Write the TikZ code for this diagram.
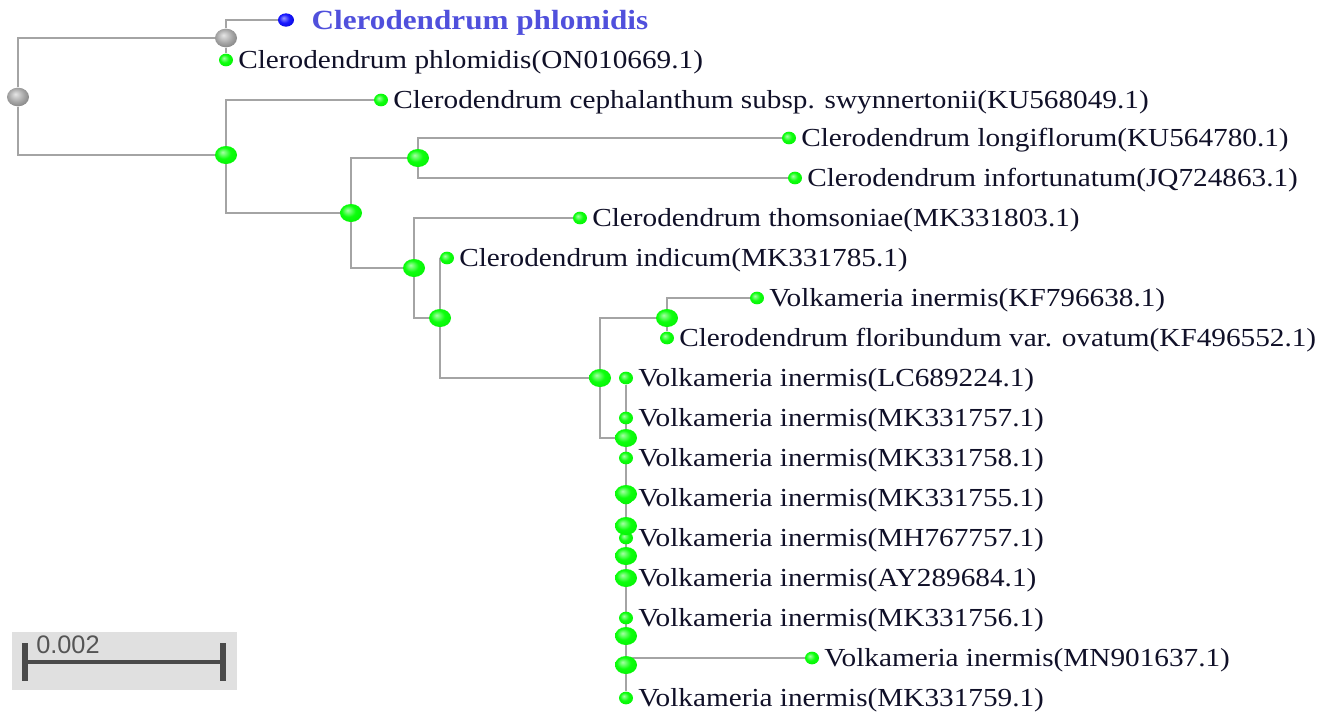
\documentclass[tikz,border=0pt]{standalone}
\usepackage{fontspec}
\usetikzlibrary{shapes.geometric,backgrounds}
\newfontfamily\labfont[FakeStretch=1.125]{Liberation Serif}
\newfontfamily\scalefont{Liberation Sans}

\definecolor{brcol}{HTML}{A4A4A4}
\definecolor{labcol}{HTML}{101028}
\definecolor{titlecol}{HTML}{5050DC}
\definecolor{barcol}{HTML}{4A4A4A}
\definecolor{barbg}{HTML}{E0E0E0}
\definecolor{barfont}{HTML}{555555}

\pgfdeclareradialshading{greenball}{\pgfpoint{-8bp}{8bp}}{%
  color(0bp)=(green!35!white); color(16bp)=(green!95!white);
  color(40bp)=(green!92!black); color(50bp)=(green!85!black)}
\pgfdeclareradialshading{greyball}{\pgfpoint{-6bp}{8bp}}{%
  color(0bp)=(gray!20!white); color(18bp)=(gray!70!white);
  color(40bp)=(gray!80!black); color(50bp)=(gray!60!black)}
\pgfdeclareradialshading{blueball}{\pgfpoint{-8bp}{8bp}}{%
  color(0bp)=(blue!40!white); color(16bp)=(blue!90!white);
  color(38bp)=(blue!80!black); color(50bp)=(blue!70!black)}

\tikzset{
  leafnode/.style={ellipse, minimum width=10.5pt, minimum height=9.5pt,
    inner sep=0pt, shade, shading=greenball},
  innode/.style={ellipse, minimum width=16.5pt, minimum height=13.5pt,
    inner sep=0pt, shade, shading=greenball},
  greynode/.style={ellipse, minimum width=16.5pt, minimum height=14pt,
    inner sep=0pt, shade, shading=greyball},
  bluenode/.style={ellipse, minimum width=12pt, minimum height=10pt,
    inner sep=0pt, shade, shading=blueball},
  branch/.style={draw=brcol, line width=1.5pt},
  lab/.style={font=\labfont\fontsize{19.5pt}{21pt}\selectfont,
    text=labcol, inner sep=0pt, anchor=base west},
}

% leaf with its label: name, x, y, text
\newcommand\leaftaxon[4]{%
  \node[leafnode] (#1) at (#2,#3) {};
  \node[lab] (#1-t) at ([xshift=9pt,yshift=-6.4pt]#1.center) {#4};}

\begin{document}
\begin{tikzpicture}[x=0.75pt,y=-0.75pt]
\useasboundingbox (0,0) rectangle (1328,711);

% scale bar
\node[draw=none, fill=barbg, minimum width=168.75pt, minimum height=43.5pt,
  inner sep=0pt, anchor=north west] (sbox) at (12,632) {};
\coordinate (sbl) at (25,662);
\coordinate (sbr) at (223,662);
\coordinate (sbla) at (25,643);
\coordinate (sblb) at (25,681);
\coordinate (sbra) at (223,643);
\coordinate (sbrb) at (223,681);
\draw[barcol, line width=3pt] (sbl) -- (sbr);
\draw[barcol, line width=4.5pt] (sbla) -- (sblb);
\draw[barcol, line width=4.5pt] (sbra) -- (sbrb);
\node[font=\scalefont\fontsize{19pt}{20pt}\selectfont, text=barfont,
  inner sep=0pt, anchor=base west] (stext) at (36,653) {0.002};

% taxa
\leaftaxon{L0}{226}{60}{Clerodendrum phlomidis(ON010669.1)}
\leaftaxon{L1}{381}{100}{Clerodendrum cephalanthum subsp. swynnertonii(KU568049.1)}
\leaftaxon{L2}{789}{138}{Clerodendrum longiflorum(KU564780.1)}
\leaftaxon{L3}{795}{178}{Clerodendrum infortunatum(JQ724863.1)}
\leaftaxon{L4}{580}{218}{Clerodendrum thomsoniae(MK331803.1)}
\leaftaxon{L5}{447}{258}{Clerodendrum indicum(MK331785.1)}
\leaftaxon{L6}{757}{298}{Volkameria inermis(KF796638.1)}
\leaftaxon{L7}{667}{338}{Clerodendrum floribundum var. ovatum(KF496552.1)}
\leaftaxon{V1}{626}{378}{Volkameria inermis(LC689224.1)}
\leaftaxon{V2}{626}{418}{Volkameria inermis(MK331757.1)}
\leaftaxon{V3}{626}{458}{Volkameria inermis(MK331758.1)}
\leaftaxon{V4}{626}{498}{Volkameria inermis(MK331755.1)}
\leaftaxon{V5}{626}{538}{Volkameria inermis(MH767757.1)}
\leaftaxon{V6}{626}{578}{Volkameria inermis(AY289684.1)}
\leaftaxon{V7}{626}{618}{Volkameria inermis(MK331756.1)}
\leaftaxon{V8}{812}{658}{Volkameria inermis(MN901637.1)}
\leaftaxon{V9}{626}{698}{Volkameria inermis(MK331759.1)}

% query sequence
\node[bluenode] (q) at (286,20) {};
\node[font=\labfont\bfseries\fontsize{20.8pt}{22pt}\selectfont, text=titlecol,
  inner sep=0pt, anchor=base west] (q-t) at ([xshift=19pt,yshift=-6.8pt]q.center)
  {Clerodendrum phlomidis};

% internal nodes
\node[greynode] (r) at (18,97) {};
\node[greynode] (g1) at (226,38) {};
\node[innode] (n1) at (226,155) {};
\node[innode] (n2) at (351,213) {};
\node[innode] (n3) at (418,158) {};
\node[innode] (n4) at (414,268) {};
\node[innode] (n5) at (440,318) {};
\node[innode] (n6) at (600,378) {};
\node[innode] (n7) at (667,318) {};
\node[innode] (c1) at (626,438) {};
\node[innode] (c2) at (626,494) {};
\node[innode] (c3) at (626,526) {};
\node[innode] (c4) at (626,556) {};
\node[innode] (c5) at (626,578) {};
\node[innode] (c6) at (626,636) {};
\node[innode] (c7) at (626,665) {};

% branches
\begin{scope}[on background layer]
  \draw[branch] (r) |- (g1);
  \draw[branch] (r) |- (n1);
  \draw[branch] (g1) |- (q);
  \draw[branch] (g1) -- (L0);
  \draw[branch] (n1) |- (L1);
  \draw[branch] (n1) |- (n2);
  \draw[branch] (n2) |- (n3);
  \draw[branch] (n2) |- (n4);
  \draw[branch] (n3) |- (L2);
  \draw[branch] (n3) |- (L3);
  \draw[branch] (n4) |- (L4);
  \draw[branch] (n4) |- (n5);
  \draw[branch] (n5) |- (L5);
  \draw[branch] (n5) |- (n6);
  \draw[branch] (n6) |- (n7);
  \draw[branch] (n6) |- (c1);
  \draw[branch] (n7) |- (L6);
  \draw[branch] (n7) -- (L7);
  \draw[branch] (V1) -- (V9);
  \draw[branch] (c6) |- (V8);
\end{scope}
\end{tikzpicture}
\end{document}
